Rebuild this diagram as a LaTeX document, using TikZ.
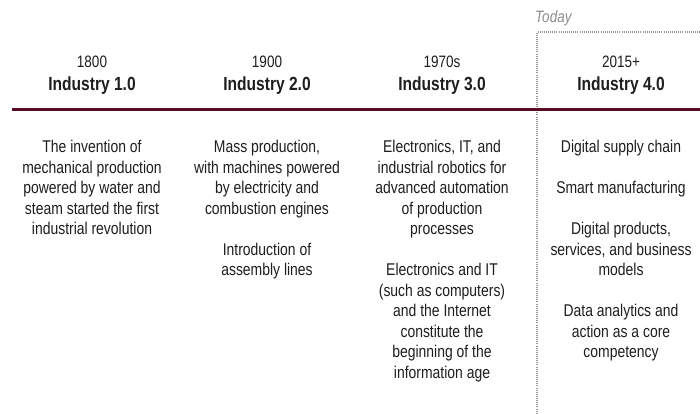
\documentclass[tikz,border=0pt]{standalone}
\usepackage{fontspec}
\setmainfont{Liberation Sans}[FakeStretch=0.82]
\definecolor{ink}{HTML}{1E1E1E}
\definecolor{maroon}{RGB}{88,14,34}
\definecolor{dotgray}{HTML}{9A9A9A}
\definecolor{todaygray}{HTML}{8E8E8E}
\begin{document}
\begin{tikzpicture}[x=1pt,y=-1pt,
  yearlabel/.style={font=\fontsize{16.5}{19}\selectfont, text=ink, inner sep=0, anchor=center},
  eralabel/.style={font=\fontsize{19}{22}\selectfont\bfseries, text=ink, inner sep=0, anchor=center},
  bodytext/.style={font=\fontsize{17}{20.5}\selectfont, text=ink, align=center, inner sep=0, anchor=north},
  timeline/.style={draw=maroon, line width=3pt},
  todaybox/.style={draw=dotgray, line width=1.1pt, dash pattern=on 1pt off 1.1pt},
  todaylabel/.style={font=\fontsize{16.5}{19}\selectfont\itshape, text=todaygray, inner sep=0, anchor=west}]
  \useasboundingbox (0,0) rectangle (700,414);
  \fill[white] (0,0) rectangle (700,414);

  % "Today" frame around the latest era
  \node[todaylabel] (today) at (535,18) {Today};
  \coordinate (frameTL) at (537,32);
  \coordinate (frameR) at (704,32);
  \coordinate (frameB) at (537,420);
  \draw[todaybox] (frameB) -- (frameTL) -- (frameR);

  % time axis
  \coordinate (axisL) at (12,110);
  \coordinate (axisR) at (700,110);
  \draw[timeline] (axisL) -- (axisR);

  % era headings
  \node[yearlabel] (y1) at (92,62) {1800};
  \node[eralabel]  (e1) at (92,86) {Industry 1.0};
  \node[yearlabel] (y2) at (267,62) {1900};
  \node[eralabel]  (e2) at (267,86) {Industry 2.0};
  \node[yearlabel] (y3) at (442,62) {1970s};
  \node[eralabel]  (e3) at (442,86) {Industry 3.0};
  \node[yearlabel] (y4) at (621,62) {2015+};
  \node[eralabel]  (e4) at (621,86) {Industry 4.0};

  % descriptions
  \node[bodytext] (d1) at (92,140) {The invention of\\mechanical production\\powered by water and\\steam started the first\\industrial revolution};

  \node[bodytext] (d2a) at (267,140) {Mass production,\\with machines powered\\by electricity and\\combustion engines};
  \node[bodytext] (d2b) at (267,242.5) {Introduction of\\assembly lines};

  \node[bodytext] (d3a) at (442,140) {Electronics, IT, and\\industrial robotics for\\advanced automation\\of production\\processes};
  \node[bodytext] (d3b) at (442,263) {Electronics and IT\\(such as computers)\\and the Internet\\constitute the\\beginning of the\\information age};

  \node[bodytext] (d4a) at (621,140) {Digital supply chain};
  \node[bodytext] (d4b) at (621,181) {Smart manufacturing};
  \node[bodytext] (d4c) at (621,222) {Digital products,\\services, and business\\models};
  \node[bodytext] (d4d) at (621,304) {Data analytics and\\action as a core\\competency};
\end{tikzpicture}
\end{document}
